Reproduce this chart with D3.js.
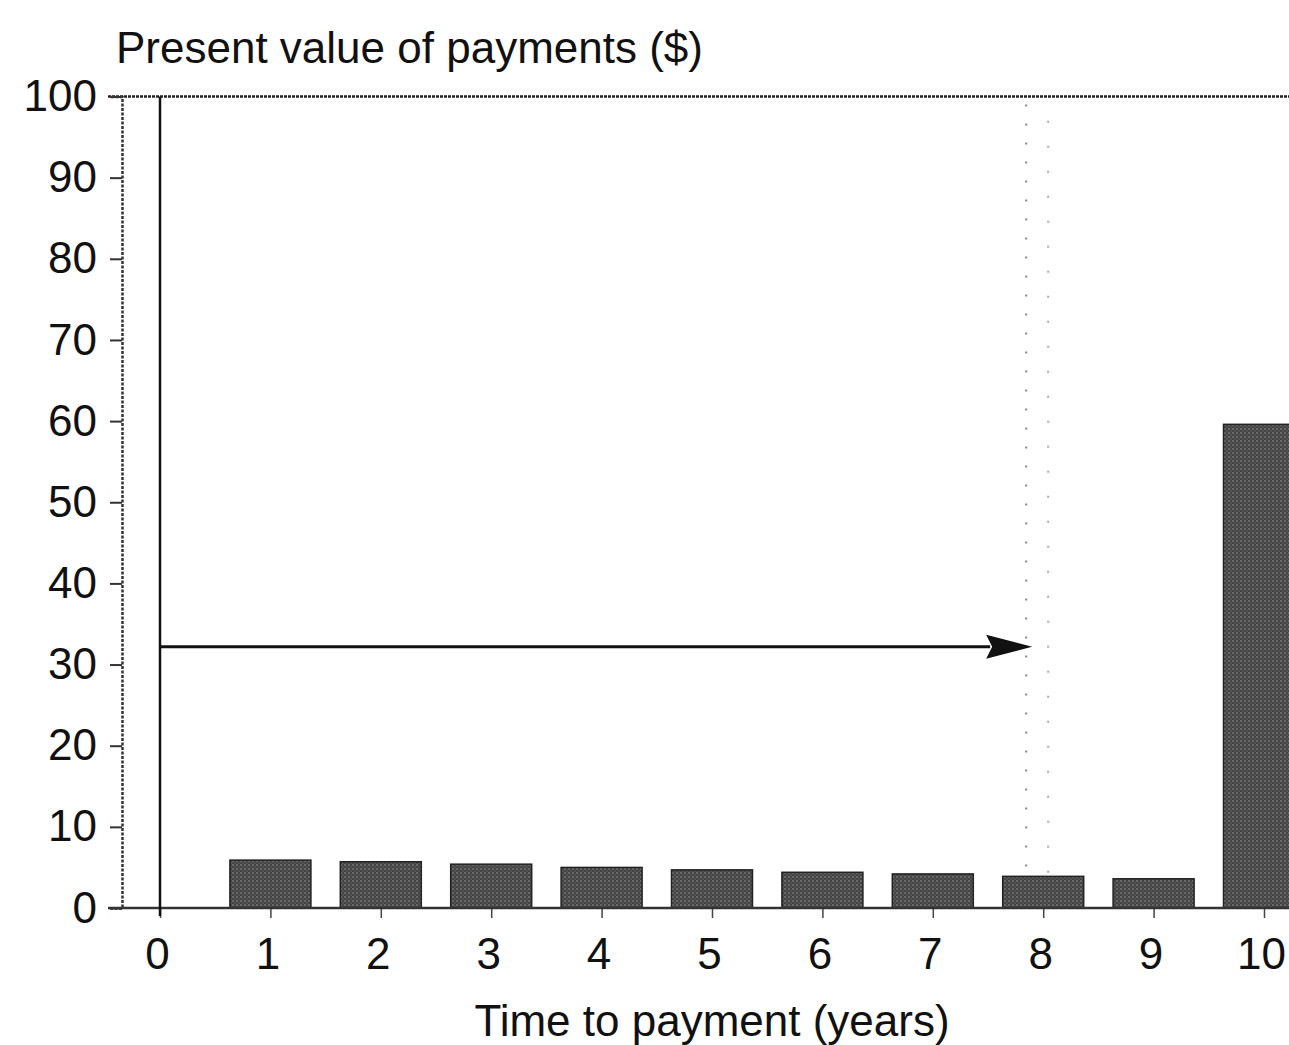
<!DOCTYPE html>
<html>
<head>
<meta charset="utf-8">
<script src="https://cdn.jsdelivr.net/npm/d3@7"></script>
<style>
  html, body { margin: 0; padding: 0; background: #fff; }
  svg { display: block; }
  text { font-family: "Liberation Sans", Arial, sans-serif; fill: #111; }
</style>
</head>
<body>
<div id="chart"></div>
<script>
// Present value of each payment.
const years = [1, 2, 3, 4, 5, 6, 7, 8, 9, 10];
const presentValues = [5.9, 5.7, 5.4, 5.0, 4.7, 4.4, 4.2, 3.9, 3.6, 59.6];
const xTicks = [0, 1, 2, 3, 4, 5, 6, 7, 8, 9, 10];
const yTicks = [0, 10, 20, 30, 40, 50, 60, 70, 80, 90, 100];
const duration = 7.9;      // arrow tip (years)
const arrowLevel = 32.2;   // arrow height ($)

const width = 1289, height = 1045;

const svg = d3.select("#chart").append("svg")
  .attr("width", width)
  .attr("height", height);

const x = d3.scaleLinear().domain([0, 10]).range([160, 1264]);
const y = d3.scaleLinear().domain([0, 100]).range([908, 96.5]);
const barW = 81;

// Halftone-like fill for the bars.
const defs = svg.append("defs");
const pat = defs.append("pattern")
  .attr("id", "halftone")
  .attr("patternUnits", "userSpaceOnUse")
  .attr("width", 4).attr("height", 4);
pat.append("rect").attr("width", 4).attr("height", 4).attr("fill", "#444");
pat.append("circle").attr("cx", 1).attr("cy", 1).attr("r", 0.9).attr("fill", "#7a7a7a");
pat.append("circle").attr("cx", 3).attr("cy", 3).attr("r", 0.7).attr("fill", "#6a6a6a");

// Top frame line at 100 (dotted).
svg.append("line")
  .attr("x1", 108).attr("x2", width)
  .attr("y1", y(100)).attr("y2", y(100))
  .attr("stroke", "#222").attr("stroke-width", 2.5)
  .attr("stroke-dasharray", "3 1");

// Y axis: dotted line with ticks on the left.
const yAxis = d3.axisLeft(y)
  .tickValues(yTicks)
  .tickSize(12)
  .tickPadding(13)
  .tickFormat(d3.format("d"));
const gy = svg.append("g")
  .attr("transform", "translate(122,0)")
  .call(yAxis);
gy.select(".domain")
  .attr("stroke", "#333").attr("stroke-width", 2.5)
  .attr("stroke-dasharray", "3 1.5");
gy.selectAll(".tick line").attr("stroke", "#333").attr("stroke-width", 2);
gy.selectAll(".tick text")
  .attr("font-size", 44)
  .style("font-family", "'Liberation Sans', Arial, sans-serif")
  .attr("fill", "#111");

// Faint dotted marks around the duration.
svg.append("line")
  .attr("x1", x(duration) - 6).attr("x2", x(duration) - 6)
  .attr("y1", y(99)).attr("y2", y(0))
  .attr("stroke", "#888").attr("stroke-width", 2)
  .attr("stroke-dasharray", "2 17");
svg.append("line")
  .attr("x1", x(duration) + 16).attr("x2", x(duration) + 16)
  .attr("y1", y(97)).attr("y2", y(2))
  .attr("stroke", "#aaa").attr("stroke-width", 2)
  .attr("stroke-dasharray", "2 23");

// Bars.
svg.append("g").selectAll("rect")
  .data(years.map((d, i) => ({ year: d, value: presentValues[i] })))
  .join("rect")
  .attr("x", d => x(d.year) - barW / 2)
  .attr("y", d => y(d.value))
  .attr("width", barW)
  .attr("height", d => y(0) - y(d.value))
  .attr("fill", "url(#halftone)")
  .attr("stroke", "#222")
  .attr("stroke-width", 1.5);

// X axis baseline with small ticks below.
const xAxis = d3.axisBottom(x)
  .tickValues(xTicks)
  .tickSize(10)
  .tickPadding(20)
  .tickFormat(d3.format("d"));
const gx = svg.append("g")
  .attr("transform", `translate(0,${y(0)})`)
  .call(xAxis);
gx.select(".domain").remove();
gx.append("line")
  .attr("x1", 108).attr("x2", width)
  .attr("y1", 0).attr("y2", 0)
  .attr("stroke", "#333").attr("stroke-width", 2.5);
gx.selectAll(".tick line").attr("stroke", "#444").attr("stroke-width", 1.5);
gx.selectAll(".tick text")
  .attr("font-size", 44)
  .attr("dx", -3)
  .style("font-family", "'Liberation Sans', Arial, sans-serif")
  .attr("fill", "#111");

// Solid vertical line at time zero.
svg.append("line")
  .attr("x1", x(0)).attr("x2", x(0))
  .attr("y1", y(100)).attr("y2", y(0) + 8)
  .attr("stroke", "#111").attr("stroke-width", 2.5);

// Arrow from time zero to the duration.
const headLen = 46, headHalf = 12;
svg.append("line")
  .attr("x1", x(0)).attr("x2", x(duration) - headLen + 4)
  .attr("y1", y(arrowLevel)).attr("y2", y(arrowLevel))
  .attr("stroke", "#111").attr("stroke-width", 3);
svg.append("path")
  .attr("d", d3.line()([
    [x(duration), y(arrowLevel)],
    [x(duration) - headLen, y(arrowLevel) - headHalf],
    [x(duration) - headLen + 6, y(arrowLevel)],
    [x(duration) - headLen, y(arrowLevel) + headHalf]
  ]) + "Z")
  .attr("fill", "#111");

// Titles.
svg.append("text")
  .attr("x", 116).attr("y", 63)
  .attr("font-size", 44)
  .text("Present value of payments ($)");

svg.append("text")
  .attr("x", (x(0) + x(10)) / 2).attr("y", 1036)
  .attr("text-anchor", "middle")
  .attr("font-size", 44)
  .text("Time to payment (years)");
</script>
</body>
</html>
